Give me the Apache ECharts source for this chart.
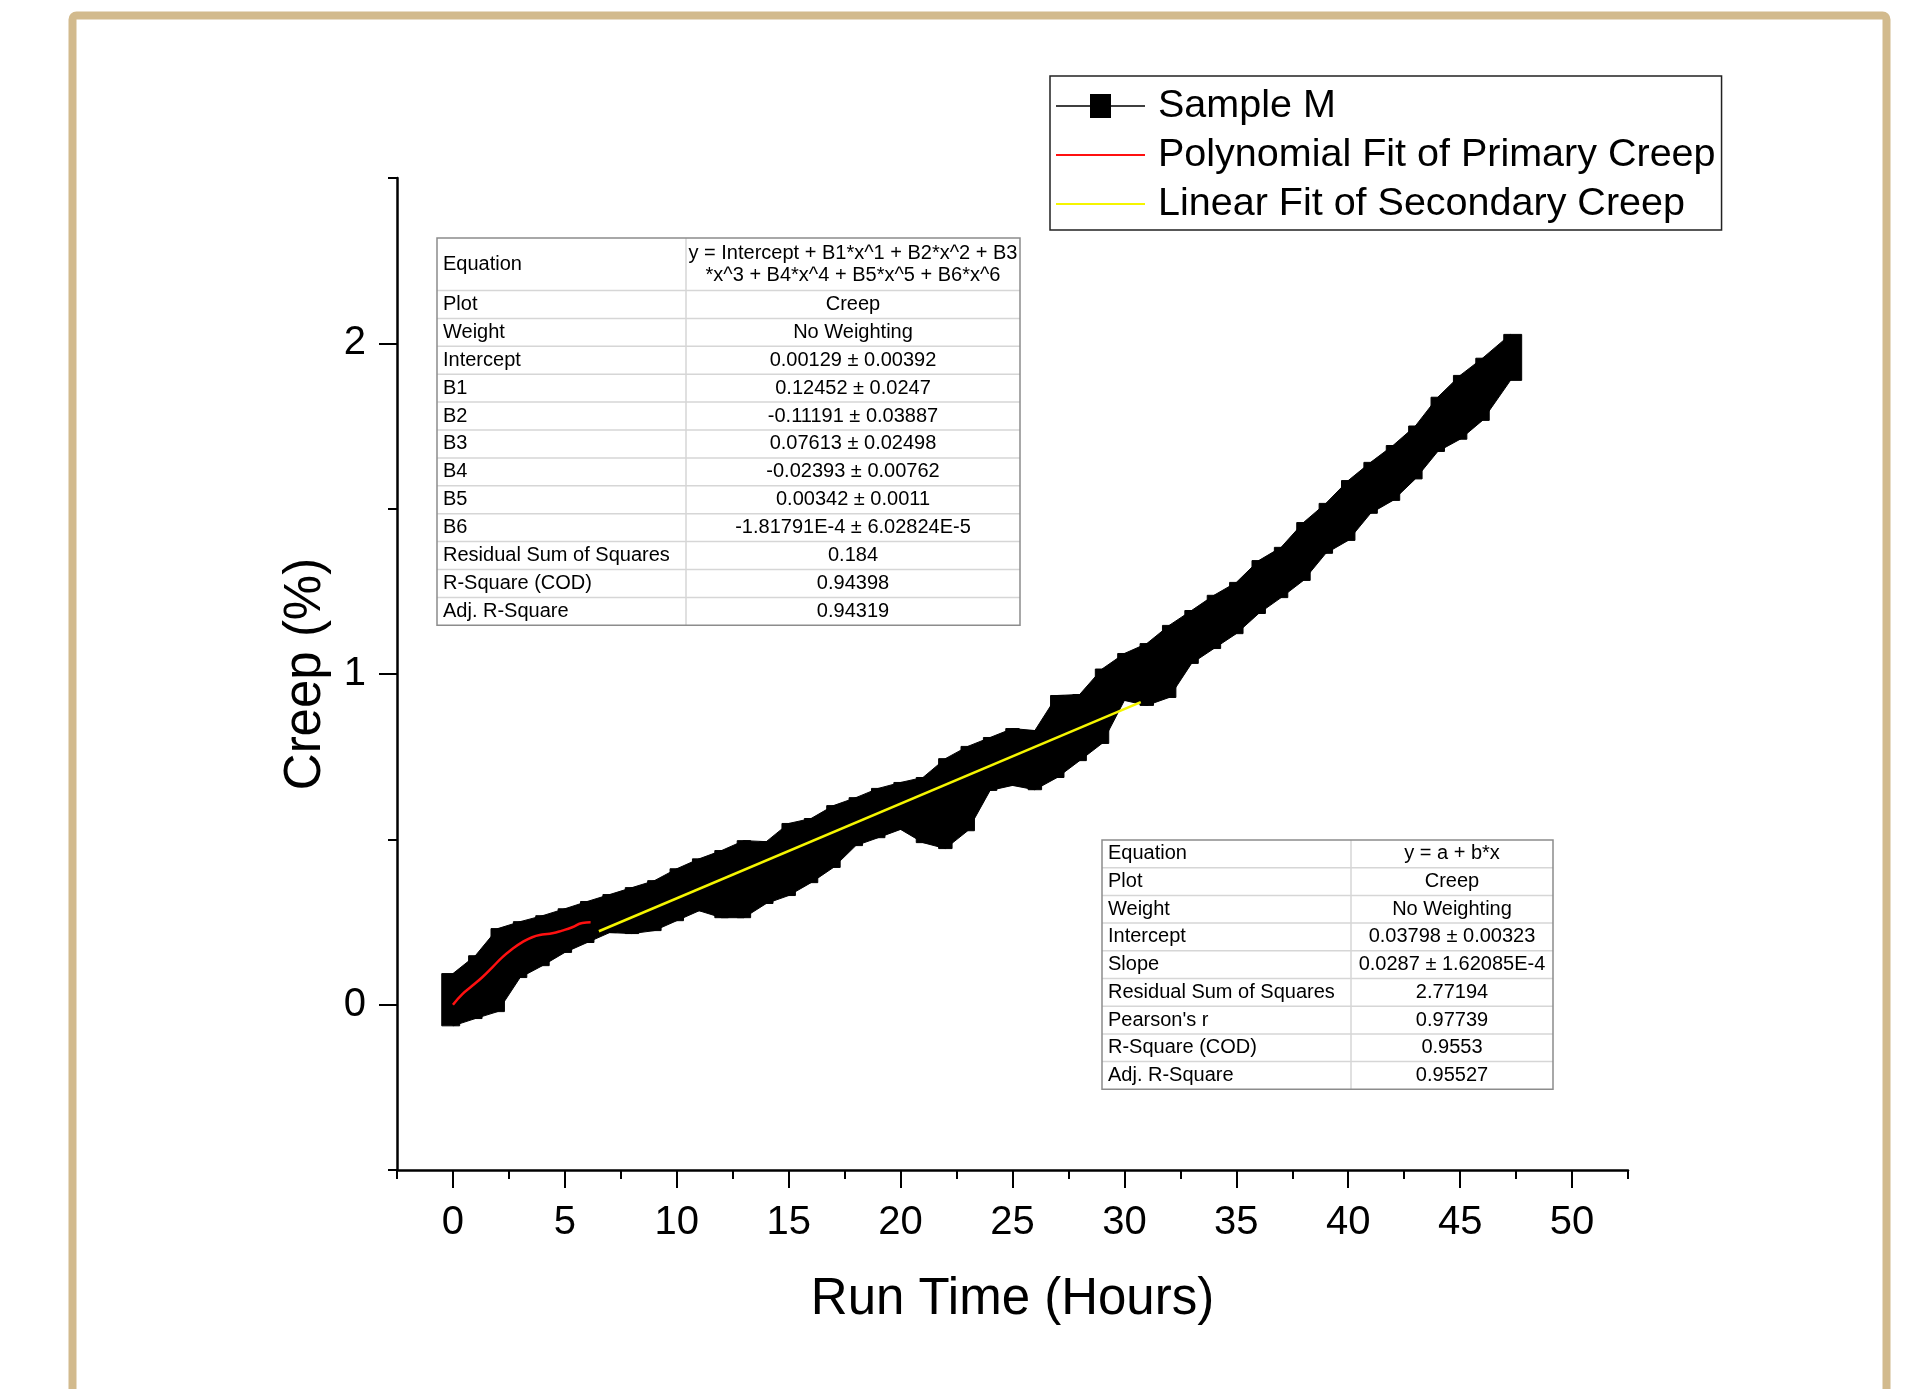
<!DOCTYPE html>
<html>
<head>
<meta charset="utf-8">
<title>Creep of Sample M</title>
<script src="https://cdn.jsdelivr.net/npm/echarts@6.0.0/dist/echarts.min.js"></script>
<style>
  html, body { margin: 0; padding: 0; background: #fff; }
  #chart { width: 1915px; height: 1389px; }
</style>
</head>
<body>
<div id="chart"></div>
<script>
// Sample M: lower / upper edge of the plotted points, read per hour
const sampleHours = [0, 1, 2, 3, 4, 5, 6, 7, 8, 9, 10, 11, 12, 13, 14, 15, 16, 17, 18, 19, 20, 21, 22, 23,
  24, 25, 26, 27, 28, 29, 30, 31, 32, 33, 34, 35, 36, 37, 38, 39, 40, 41, 42, 43, 44, 45, 46, 47.25]
const sampleLow = [-0.064, -0.042, -0.021, 0.082, 0.118, 0.158, 0.188, 0.218, 0.215, 0.224, 0.254, 0.284,
  0.263, 0.263, 0.306, 0.330, 0.369, 0.415, 0.481, 0.505, 0.530, 0.490, 0.472, 0.526,
  0.648, 0.663, 0.650, 0.687, 0.738, 0.790, 0.920, 0.905, 0.929, 1.032, 1.077, 1.122,
  1.183, 1.231, 1.283, 1.365, 1.404, 1.486, 1.525, 1.590, 1.673, 1.710, 1.767, 1.888]
const sampleHigh = [0.094, 0.148, 0.230, 0.251, 0.269, 0.290, 0.312, 0.333, 0.354, 0.375, 0.411, 0.441,
  0.466, 0.496, 0.493, 0.548, 0.563, 0.602, 0.626, 0.654, 0.672, 0.687, 0.744, 0.781,
  0.808, 0.835, 0.829, 0.935, 0.938, 1.015, 1.062, 1.092, 1.147, 1.192, 1.238, 1.277,
  1.343, 1.383, 1.458, 1.516, 1.585, 1.640, 1.691, 1.750, 1.837, 1.903, 1.955, 2.027]

// fit curves
const polyFitX = [0, 0.42, 0.86, 1.31, 1.76, 2.20, 2.65, 3.10, 3.54, 3.99, 4.44, 4.88, 5.33, 5.78, 6.15]
const polyFitY = [0, 0.032, 0.057, 0.083, 0.113, 0.143, 0.168, 0.189, 0.204, 0.212, 0.216, 0.224, 0.234, 0.247, 0.249]
const linFitX = [6.52, 30.73]
const linFitY = [0.222, 0.915]

const xMajorTicks = [0, 5, 10, 15, 20, 25, 30, 35, 40, 45, 50]
const xMinorTicks = [-2.5, 2.5, 7.5, 12.5, 17.5, 22.5, 27.5, 32.5, 37.5, 42.5, 47.5, 52.5]
const yMajorTicks = [0, 1, 2]
const yMinorTicks = [-0.5, 0.5, 1.5, 2.5]

const polyLabels = ['Equation', 'Plot', 'Weight', 'Intercept', 'B1', 'B2', 'B3', 'B4', 'B5', 'B6',
  'Residual Sum of Squares', 'R-Square (COD)', 'Adj. R-Square']
const polyValues = ['y = Intercept + B1*x^1 + B2*x^2 + B3\n*x^3 + B4*x^4 + B5*x^5 + B6*x^6', 'Creep', 'No Weighting',
  '0.00129 ± 0.00392', '0.12452 ± 0.0247', '-0.11191 ± 0.03887', '0.07613 ± 0.02498',
  '-0.02393 ± 0.00762', '0.00342 ± 0.0011', '-1.81791E-4 ± 6.02824E-5', '0.184', '0.94398', '0.94319']
const linLabels = ['Equation', 'Plot', 'Weight', 'Intercept', 'Slope', 'Residual Sum of Squares',
  "Pearson's r", 'R-Square (COD)', 'Adj. R-Square']
const linValues = ['y = a + b*x', 'Creep', 'No Weighting', '0.03798 ± 0.00323', '0.0287 ± 1.62085E-4',
  '2.77194', '0.97739', '0.9553', '0.95527']

const FONT = 'Liberation Sans, Arial, Helvetica, sans-serif'

const chart = echarts.init(document.getElementById('chart'))

// results table drawn as graphic elements
const buildTable = (x, y, width, splitX, firstRowH, rowH, labels, values) => {
  const children = []
  const heights = labels.map((_, i) => (i === 0 ? firstRowH : rowH))
  const total = heights.reduce((a, b) => a + b, 0)
  children.push({ type: 'rect', shape: { x: 0, y: 0, width: width, height: total },
    style: { fill: '#fff', stroke: 'none' } })
  let top = 0
  labels.forEach((lab, i) => {
    const h = heights[i]
    if (i > 0) {
      children.push({ type: 'line', shape: { x1: 0, y1: top, x2: width, y2: top },
        style: { stroke: '#d6d6d6', lineWidth: 1.5 } })
    }
    children.push({ type: 'text', style: { text: lab, x: 6, y: top + h / 2, verticalAlign: 'middle',
      fontSize: 20, fontFamily: FONT, fill: '#000' } })
    children.push({ type: 'text', style: { text: values[i], x: (splitX + width) / 2, y: top + h / 2,
      align: 'center', verticalAlign: 'middle', lineHeight: 22, fontSize: 20, fontFamily: FONT, fill: '#000' } })
    top += h
  })
  children.push({ type: 'line', shape: { x1: splitX, y1: 0, x2: splitX, y2: total },
    style: { stroke: '#d6d6d6', lineWidth: 1.5 } })
  children.push({ type: 'rect', shape: { x: 0, y: 0, width: width, height: total },
    style: { fill: 'none', stroke: '#8c8c8c', lineWidth: 1.5 } })
  return { type: 'group', x: x, y: y, z: 10, children: children }
}

// one band segment between two neighbouring readings
const bandSegments = sampleHours.slice(0, -1).map((h, i) =>
  [h, sampleLow[i], sampleHigh[i], sampleHours[i + 1], sampleLow[i + 1], sampleHigh[i + 1]])

const markerHalf = 0.3
const markerBlock = (api, h, lo, hi, left, right, style) => ({
  type: 'polygon', style: style,
  shape: { points: [api.coord([h - left, hi]), api.coord([h + right, hi]),
    api.coord([h + right, lo]), api.coord([h - left, lo])] }
})

const renderBand = (params, api) => {
  const h0 = api.value(0), lo0 = api.value(1), hi0 = api.value(2)
  const h1 = api.value(3), lo1 = api.value(4), hi1 = api.value(5)
  const style = { fill: '#000', stroke: '#000', lineWidth: 1 }
  const first = params.dataIndex === 0
  const last = params.dataIndex === bandSegments.length - 1
  const children = [{
    type: 'polygon',
    shape: { points: [api.coord([h0, hi0]), api.coord([h1, hi1]), api.coord([h1, lo1]), api.coord([h0, lo0])] },
    style: style
  }]
  // square markers around each reading
  children.push(markerBlock(api, h0, lo0, hi0, first ? 0.5 : markerHalf, markerHalf, style))
  if (last) children.push(markerBlock(api, h1, lo1, hi1, markerHalf, 0.5, style))
  return { type: 'group', children: children }
}

const axisLineStyle = { color: '#000', width: 2.5 }
const tickStyle = { color: '#000', width: 2 }

const option = {
  backgroundColor: '#fff',
  animation: false,
  textStyle: { fontFamily: FONT },
  grid: { left: 397, top: 178, right: 287, bottom: 219, outerBoundsMode: 'none' },
  legend: {
    orient: 'vertical',
    left: 1050,
    top: 76,
    padding: [10, 6, 6, 5],
    itemGap: 9,
    itemWidth: 89,
    itemHeight: 24,
    borderColor: '#222',
    borderWidth: 1.5,
    selectedMode: false,
    textStyle: { fontSize: 39.5, fontFamily: FONT, color: '#000', padding: [0, 0, 0, 8] },
    data: [
      { name: 'Sample M', icon: 'path://M0,11.3H34V0H55V24H34V12.7H0Z M55,11.3H89V12.7H55Z' },
      { name: 'Polynomial Fit of Primary Creep', itemStyle: { opacity: 0 } },
      { name: 'Linear Fit of Secondary Creep', itemStyle: { opacity: 0 } }
    ]
  },
  xAxis: [
    {
      type: 'value', min: -2.5, max: 52.5, position: 'bottom',
      name: 'Run Time (Hours)', nameLocation: 'middle', nameGap: 104,
      nameTextStyle: { fontSize: 51, color: '#000', fontFamily: FONT },
      axisLine: { onZero: false, lineStyle: axisLineStyle },
      axisTick: { customValues: xMajorTicks, length: 18, lineStyle: tickStyle },
      axisLabel: { customValues: xMajorTicks, margin: 33, fontSize: 40, color: '#000', fontFamily: FONT },
      splitLine: { show: false }
    },
    {
      type: 'value', min: -2.5, max: 52.5, position: 'bottom',
      axisLine: { show: false, onZero: false },
      axisTick: { customValues: xMinorTicks, length: 9, lineStyle: tickStyle },
      axisLabel: { show: false },
      splitLine: { show: false }
    }
  ],
  yAxis: [
    {
      type: 'value', min: -0.5, max: 2.5, position: 'left',
      name: 'Creep (%)', nameLocation: 'middle', nameGap: 66,
      nameTextStyle: { fontSize: 51, color: '#000', fontFamily: FONT },
      axisLine: { show: true, onZero: false, lineStyle: axisLineStyle },
      axisTick: { show: true, customValues: yMajorTicks, length: 18, lineStyle: tickStyle },
      axisLabel: { customValues: yMajorTicks, margin: 31, fontSize: 40, color: '#000', fontFamily: FONT },
      splitLine: { show: false }
    },
    {
      type: 'value', min: -0.5, max: 2.5, position: 'left',
      axisLine: { show: false, onZero: false },
      axisTick: { show: true, customValues: yMinorTicks, length: 9, lineStyle: tickStyle },
      axisLabel: { show: false },
      splitLine: { show: false }
    }
  ],
  series: [
    {
      name: 'Sample M',
      type: 'custom',
      z: 2,
      itemStyle: { color: '#000' },
      encode: { x: [0, 3], y: [1, 2, 4, 5] },
      data: bandSegments,
      renderItem: renderBand
    },
    {
      name: 'Polynomial Fit of Primary Creep',
      type: 'line',
      z: 3,
      symbol: 'none',
      smooth: true,
      color: '#ff1010',
      lineStyle: { color: '#ff1010', width: 2.5 },
      data: polyFitX.map((x, i) => [x, polyFitY[i]])
    },
    {
      name: 'Linear Fit of Secondary Creep',
      type: 'line',
      z: 3,
      symbol: 'none',
      color: '#f5f500',
      lineStyle: { color: '#f5f500', width: 2.5 },
      data: linFitX.map((x, i) => [x, linFitY[i]])
    }
  ],
  graphic: [
    {
      type: 'rect', z: 20, silent: true,
      shape: { x: 72.5, y: 15.5, width: 1814, height: 1450, r: 4 },
      style: { fill: 'none', stroke: '#d2ba8d', lineWidth: 8 }
    },
    buildTable(437, 238, 583, 249, 52.5, 27.9, polyLabels, polyValues),
    buildTable(1102, 840, 451, 249, 27.7, 27.7, linLabels, linValues)
  ]
}

chart.setOption(option)
</script>
</body>
</html>
